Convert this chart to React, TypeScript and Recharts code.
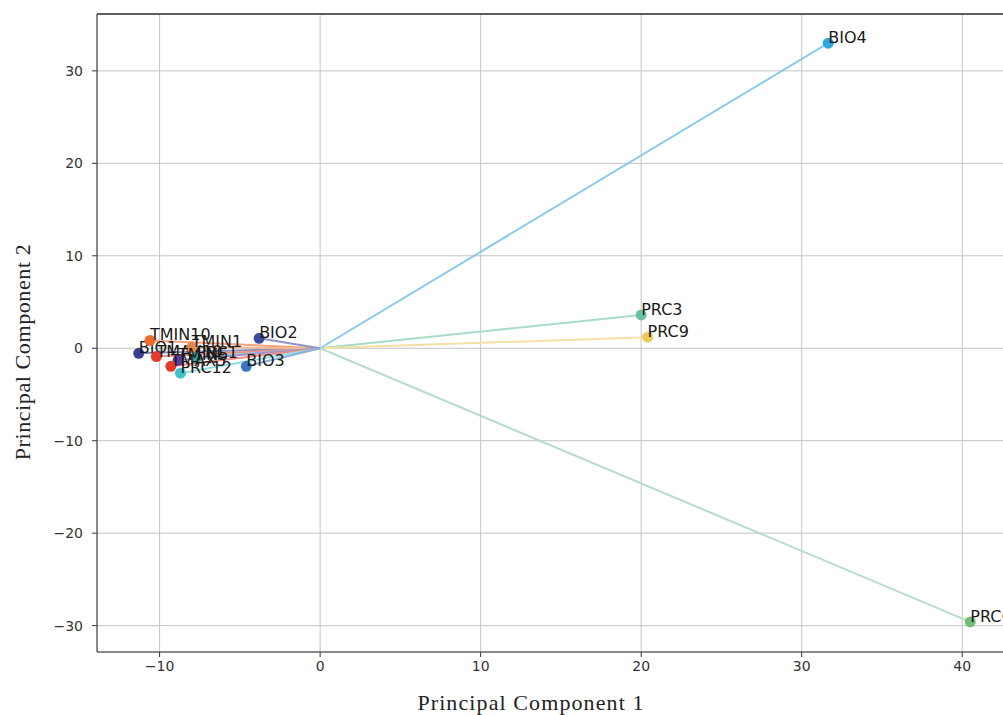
import React from "react";
import { ScatterChart, Scatter, XAxis, YAxis, CartesianGrid, ReferenceLine } from "recharts";

const labels = ["BIO1", "TMIN10", "TMAX10", "TMIN1", "PRC1", "TMIN5", "TMAX5", "PRC12", "BIO2", "BIO3", "PRC3", "PRC9", "BIO4", "PRC6"];
const pc1 = [-11.3, -10.6, -10.2, -8.0, -7.7, -8.85, -9.3, -8.7, -3.8, -4.6, 20.0, 20.4, 31.65, 40.5];
const pc2 = [-0.55, 0.85, -0.9, 0.1, -1.0, -1.3, -1.95, -2.7, 1.08, -1.95, 3.6, 1.2, 33.0, -29.6];
const pointColors = ["#3b3f95", "#f26b2e", "#e23b2b", "#e3874a", "#3aa0a0", "#5b3f9c", "#e43a2c", "#3ec3cc", "#3c4b9d", "#3a76c2", "#6ac4a0", "#ecc95a", "#2ea7df", "#72bf7c"];
const lineColors = ["#8a8cc4", "#f5a27c", "#ee8e84", "#eeb890", "#8ccaca", "#a292c8", "#ee8e84", "#92dde2", "#8c94c8", "#8cb0dc", "#a8dcc6", "#f2e0a6", "#88cbea", "#b8dcca"];

const xTicks = [-10, 0, 10, 20, 30, 40];
const yTicks = [-30, -20, -10, 0, 10, 20, 30];

const points = labels.map((name, i) => ({ x: pc1[i], y: pc2[i], name, color: pointColors[i] }));

const fmt = (v: number) => (v < 0 ? "\u2212" + Math.abs(v) : String(v));

const PointShape = (props: any) => {
  const { cx, cy, payload } = props;
  return (
    <g>
      <circle cx={cx} cy={cy} r={5.5} fill={payload.color} />
      <text x={cx} y={cy} fontFamily="DejaVu Sans" fontSize={16} fill="#1a1a1a">
        {payload.name}
      </text>
    </g>
  );
};

export default function App() {
  return (
    <div style={{ position: "absolute", left: 0, top: 0, width: 1003, height: 715, overflow: "hidden", background: "#fff" }}>
      <ScatterChart width={1030} height={715} margin={{ top: 14, right: 18, bottom: 0, left: 0 }}>
        <CartesianGrid stroke="#c4c4c4" strokeWidth={1} />
        <XAxis
          type="number"
          dataKey="x"
          domain={[-13.9, 43.1]}
          ticks={xTicks}
          allowDataOverflow
          height={63}
          tickSize={5}
          tickMargin={4}
          stroke="#333"
          tick={{ fill: "#333", fontSize: 14, fontFamily: "DejaVu Sans" }}
          tickFormatter={fmt}
          label={{
            content: () => (
              <text x={531} y={702} textAnchor="middle" dominantBaseline="central" fontFamily="Liberation Serif" fontSize={22} letterSpacing={1.1} fill="#222">
                Principal Component 1
              </text>
            ),
          }}
        />
        <YAxis
          type="number"
          dataKey="y"
          domain={[-32.85, 36.15]}
          ticks={yTicks}
          allowDataOverflow
          width={97}
          tickSize={5}
          tickMargin={9}
          stroke="#333"
          tick={{ fill: "#333", fontSize: 14, fontFamily: "DejaVu Sans" }}
          tickFormatter={fmt}
          label={{
            content: () => (
              <text x={22} y={352} textAnchor="middle" dominantBaseline="central" transform="rotate(-90 22 352)" fontFamily="Liberation Serif" fontSize={22} letterSpacing={0.6} fill="#222">
                Principal Component 2
              </text>
            ),
          }}
        />
        <ReferenceLine y={36.15} stroke="#333" strokeWidth={1.5} />
        <ReferenceLine x={43.1} stroke="#333" strokeWidth={1.5} />
        {points.map((p, i) => (
          <ReferenceLine
            key={p.name}
            segment={[{ x: 0, y: 0 }, { x: p.x, y: p.y }]}
            stroke={lineColors[i]}
            strokeWidth={2}
          />
        ))}
        <Scatter data={points} shape={PointShape} isAnimationActive={false} />
      </ScatterChart>
    </div>
  );
}
